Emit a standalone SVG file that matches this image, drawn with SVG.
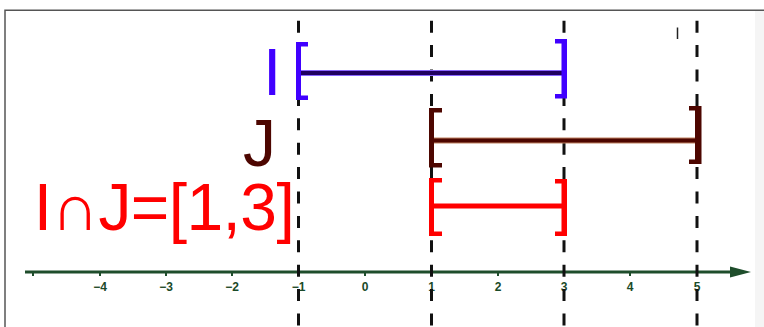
<svg xmlns="http://www.w3.org/2000/svg" width="764" height="327" viewBox="0 0 764 327">
  <style>
    .guide { stroke: #111; stroke-width: 3; stroke-dasharray: 12 12.4; fill: none; }
    .tick { stroke: #1e4d2b; stroke-width: 2; }
    .tlabel { font-family: "Liberation Sans", Arial, sans-serif; font-weight: bold; font-size: 12px; fill: #1a4a28; text-anchor: middle; }
    .big { font-family: "Liberation Sans", Arial, sans-serif; font-size: 66px; }
  </style>
  <rect x="0" y="0" width="764" height="327" fill="#ffffff"/>
  <rect x="755" y="11" width="9" height="316" fill="#f5f5f5"/>
  <g id="frame" fill="none" stroke="#555" stroke-width="1.5">
    <path d="M5,327 V10.2 H764"/>
  </g>

  <g id="axis">
    <line x1="25" y1="272" x2="735" y2="272" stroke="#1e4d2b" stroke-width="3"/>
    <polygon points="730,266.5 751,272 730,277.5" fill="#1e4d2b"/>
    <g class="tick">
      <line x1="33" y1="272" x2="33" y2="276"/>
      <line x1="100" y1="272" x2="100" y2="276"/>
      <line x1="166" y1="272" x2="166" y2="276"/>
      <line x1="232" y1="272" x2="232" y2="276"/>
      <line x1="298.5" y1="272" x2="298.5" y2="276"/>
      <line x1="365" y1="272" x2="365" y2="276"/>
      <line x1="431.5" y1="272" x2="431.5" y2="276"/>
      <line x1="498" y1="272" x2="498" y2="276"/>
      <line x1="564" y1="272" x2="564" y2="276"/>
      <line x1="630" y1="272" x2="630" y2="276"/>
      <line x1="697" y1="272" x2="697" y2="276"/>
    </g>
    <text class="tlabel" x="100" y="291">−4</text>
    <text class="tlabel" x="166" y="291">−3</text>
    <text class="tlabel" x="232" y="291">−2</text>
    <text class="tlabel" x="298.5" y="291">−1</text>
    <text class="tlabel" x="365" y="291">0</text>
    <text class="tlabel" x="431.5" y="291">1</text>
    <text class="tlabel" x="498" y="291">2</text>
    <text class="tlabel" x="564" y="291">3</text>
    <text class="tlabel" x="630" y="291">4</text>
    <text class="tlabel" x="697" y="291">5</text>
  </g>

  <g id="guides">
    <line class="guide" x1="298.5" y1="20.7" x2="298.5" y2="327"/>
    <line class="guide" x1="431.5" y1="20.7" x2="431.5" y2="327"/>
    <line class="guide" x1="564" y1="20.7" x2="564" y2="327"/>
    <line class="guide" x1="697" y1="20.7" x2="697" y2="327"/>
    <line x1="677.5" y1="27.5" x2="677.5" y2="39" stroke="#222" stroke-width="1.5"/>
  </g>

  <g id="interval-I">
    <line x1="300" y1="73" x2="562" y2="73" stroke="#8a66ff" stroke-width="6"/>
    <line x1="300" y1="73" x2="562" y2="73" stroke="#200060" stroke-width="4"/>
    <path d="M296,42 H308 V46.5 H301 V95.5 H308 V100 H296 Z" fill="#4000ff"/>
    <path d="M567,39 H555 V43.5 H561.5 V94 H555 V98.5 H567 Z" fill="#4000ff"/>
    <text class="big" x="263" y="95" fill="#4000ff">I</text>
  </g>

  <g id="interval-J">
    <line x1="433" y1="140.5" x2="696" y2="140.5" stroke="#c08060" stroke-width="6"/>
    <line x1="433" y1="140.5" x2="696" y2="140.5" stroke="#4d0600" stroke-width="4"/>
    <path d="M429,108 H442 V112.5 H434 V163 H442 V167.5 H429 Z" fill="#4d0600"/>
    <path d="M701.5,106 H689 V110.5 H695 V159.5 H689 V164 H701.5 Z" fill="#4d0600"/>
    <text class="big" x="243" y="165.5" fill="#4d0600">J</text>
  </g>

  <g id="interval-IJ" fill="#ff0000">
    <line x1="433" y1="206" x2="563" y2="206" stroke="#ff0000" stroke-width="5"/>
    <path d="M429,178 H442 V182.5 H434 V231.5 H442 V236 H429 Z"/>
    <path d="M567,179 H555 V183.5 H561.5 V231.5 H555 V236 H567 Z"/>
    <text class="big" x="33.8" y="230" textLength="261" lengthAdjust="spacing">I∩J=[1,3]</text>
  </g>
</svg>
